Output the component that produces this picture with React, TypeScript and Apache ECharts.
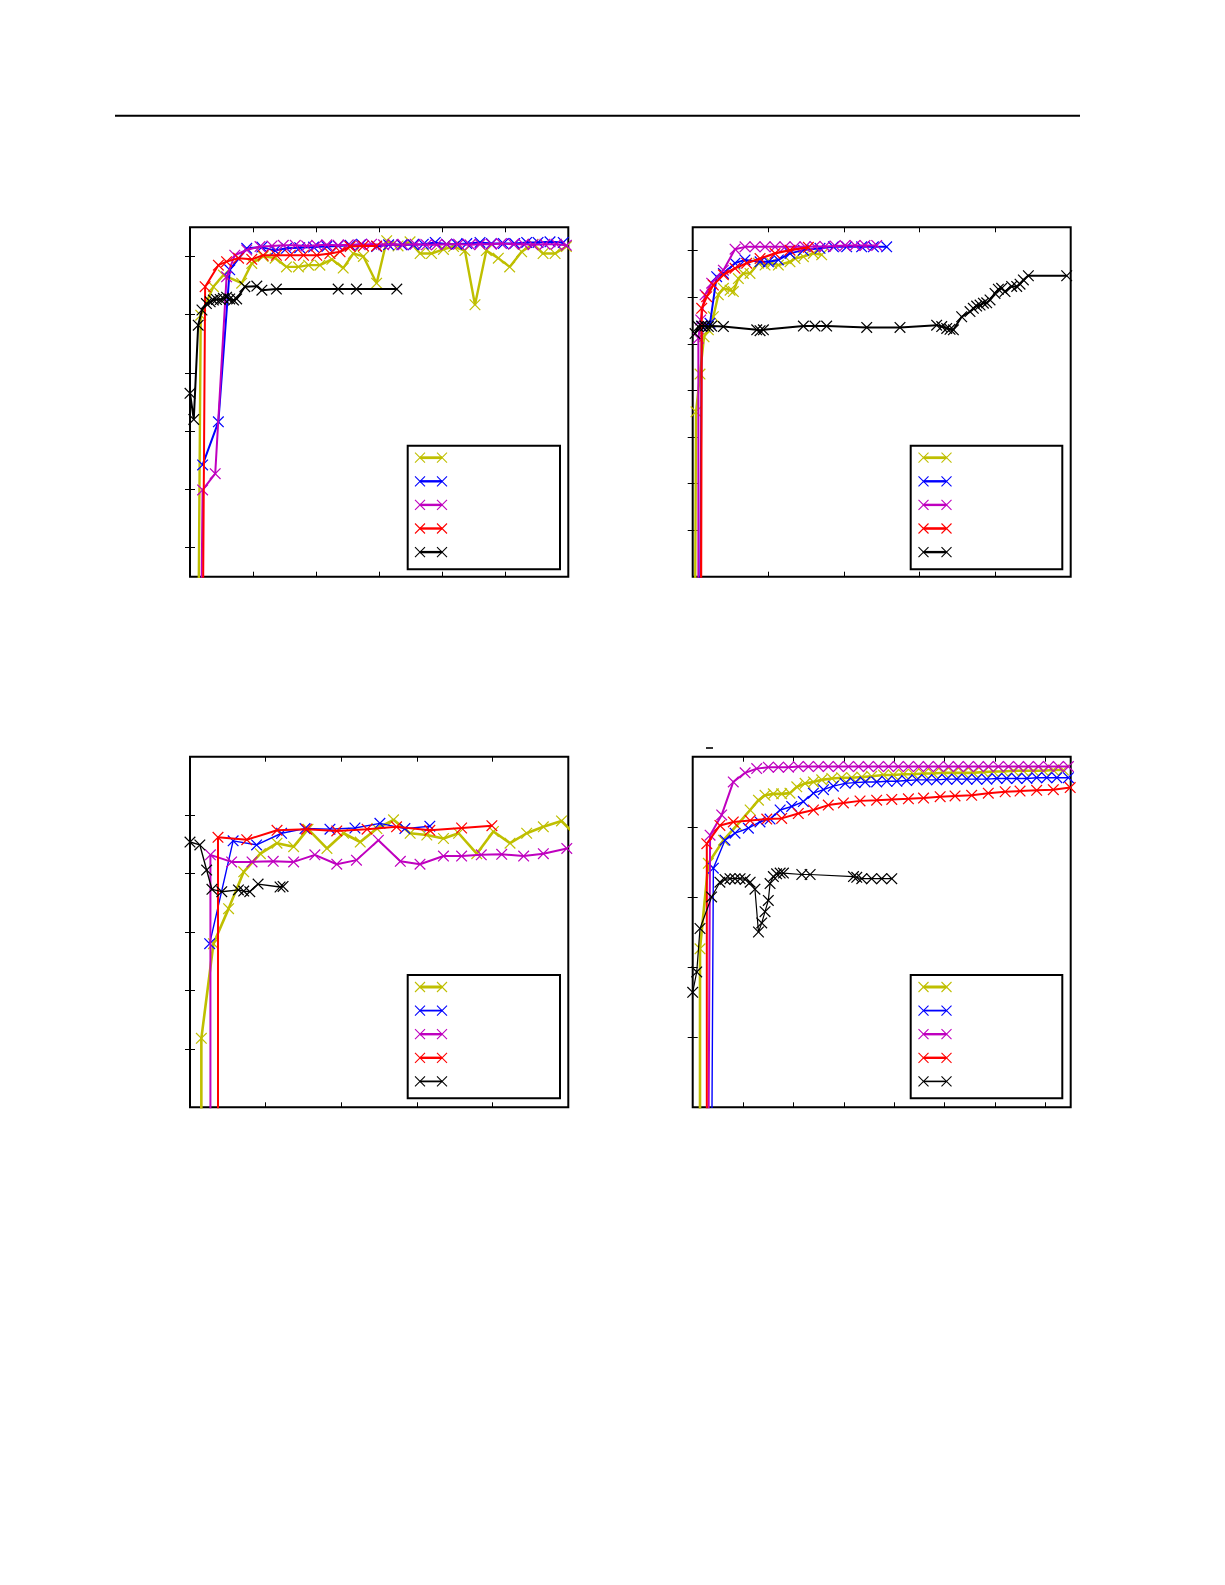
import { useEffect, useRef } from "react";
import * as echarts from "echarts";

type Pt = [number, number];

// matplotlib style colours, legend order
const SERIES_COLORS = ["#bfbf00", "#0000ff", "#bf00bf", "#ff0000", "#000000"];

// ---- panel 1 (top left) ----
const P1_X_TICKS = [10, 20, 30, 40, 50];
const P1_Y_TICKS = [0.5, 0.6, 0.7, 0.8, 0.9, 1.0];
const P1_YELLOW: Pt[] = [
  [1.3, 0.3], [1.7, 0.899], [3.7, 0.948], [5.3, 0.968], [8.2, 0.954], [9.8, 0.988],
  [11.6, 1.0], [13.5, 0.997], [15.3, 0.982], [17.2, 0.982], [18.8, 0.985], [20.6, 0.985],
  [22.5, 0.995], [24.3, 0.98], [25.9, 1.005], [27.5, 1.0], [29.6, 0.954], [31.2, 1.027],
  [33.0, 1.018], [34.9, 1.025], [36.5, 1.005], [38.3, 1.005], [40.2, 1.012], [41.8, 1.017],
  [43.6, 1.01], [45.2, 0.917], [47.0, 1.01], [48.9, 0.997], [50.7, 0.982], [52.6, 1.008],
  [54.4, 1.021], [56.0, 1.005], [57.9, 1.005], [59.7, 1.017],
];
const P1_BLUE: Pt[] = [
  [2.0, 0.642], [4.5, 0.716], [6.3, 0.977], [9.0, 1.014], [11.4, 1.016], [13.5, 1.01],
  [15.3, 1.014], [17.4, 1.015], [19.6, 1.016], [21.7, 1.017], [23.5, 1.018], [25.4, 1.019],
  [27.2, 1.021], [29.6, 1.017], [31.5, 1.02], [33.6, 1.02], [35.4, 1.02], [37.0, 1.021],
  [38.9, 1.024], [40.7, 1.021], [42.3, 1.021], [43.9, 1.022], [46.0, 1.024], [47.8, 1.022],
  [49.7, 1.022], [51.5, 1.022], [53.4, 1.024], [55.2, 1.024], [57.1, 1.025], [59.2, 1.024],
];
const P1_MAGENTA: Pt[] = [
  [1.7, 0.3], [2.0, 0.599], [4.0, 0.627], [5.8, 0.965], [7.1, 1.002], [9.0, 1.011],
  [11.1, 1.017], [13.0, 1.018], [14.8, 1.019], [16.7, 1.019], [18.5, 1.018], [20.1, 1.019],
  [21.7, 1.02], [23.5, 1.019], [25.1, 1.02], [27.0, 1.02], [28.8, 1.021], [30.7, 1.02],
  [32.2, 1.021], [33.8, 1.02], [35.7, 1.021], [37.5, 1.02], [39.1, 1.02], [40.7, 1.021],
  [42.6, 1.021], [44.4, 1.02], [46.0, 1.021], [47.8, 1.021], [49.4, 1.022], [51.3, 1.021],
  [52.9, 1.021], [54.4, 1.02], [56.3, 1.021], [58.1, 1.021], [59.7, 1.019],
];
const P1_RED: Pt[] = [
  [2.0, 0.3], [2.4, 0.948], [4.5, 0.985], [5.8, 0.991], [7.7, 0.997], [9.8, 0.995],
  [11.6, 1.002], [13.7, 1.002], [15.9, 1.002], [18.0, 1.002], [20.1, 1.002], [22.2, 1.005],
  [23.8, 1.008], [25.4, 1.017], [27.5, 1.018], [29.6, 1.018],
];
const P1_BLACK: Pt[] = [
  [0, 0.765], [0.6, 0.72], [1.3, 0.882], [1.9, 0.908], [2.6, 0.919], [3.2, 0.922],
  [3.7, 0.925], [4.2, 0.926], [4.8, 0.926], [5.3, 0.928], [5.8, 0.93], [6.3, 0.927],
  [6.9, 0.925], [7.4, 0.927], [8.7, 0.948], [10.6, 0.949], [11.4, 0.942], [13.7, 0.944],
  [23.5, 0.944], [26.4, 0.944], [32.8, 0.944],
];

// ---- panel 2 (top right) ----
const P2_X_TICKS = [100, 200, 300, 400];
const P2_Y_TICKS = [0.4, 0.5, 0.6, 0.7, 0.8, 0.9, 1.0];
const P2_YELLOW: Pt[] = [
  [3.1, 0.2], [4.4, 0.654], [9.7, 0.735], [15.0, 0.815], [20.7, 0.83], [27.3, 0.858],
  [33.9, 0.905], [40.6, 0.919], [49.4, 0.915], [53.8, 0.912], [60.4, 0.94], [67.0, 0.951],
  [75.8, 0.951], [86.9, 0.973], [95.7, 0.969], [104.5, 0.973], [113.3, 0.969], [128.7, 0.976],
  [135.4, 0.983], [146.4, 0.987], [159.6, 0.994], [170.6, 0.991],
];
const P2_BLUE: Pt[] = [
  [9.7, 0.2], [11.9, 0.837], [22.9, 0.844], [31.7, 0.944], [40.6, 0.951], [56.0, 0.973],
  [69.2, 0.98], [89.1, 0.976], [100.1, 0.976], [113.3, 0.98], [128.7, 0.994], [146.4, 1.001],
  [168.4, 1.005], [186.1, 1.008], [203.7, 1.008], [223.5, 1.008], [239.0, 1.008], [256.6, 1.008],
];
const P2_MAGENTA: Pt[] = [
  [7.5, 0.2], [7.5, 0.812], [10.6, 0.851], [16.3, 0.905], [25.1, 0.93], [40.6, 0.958],
  [56.0, 1.003], [69.2, 1.008], [82.4, 1.008], [95.7, 1.008], [108.9, 1.008], [122.1, 1.008],
  [135.4, 1.008], [148.6, 1.008], [161.8, 1.009], [175.0, 1.009], [188.3, 1.01], [201.5, 1.011],
  [214.7, 1.011], [227.9, 1.011], [243.4, 1.011],
];
const P2_RED: Pt[] = [
  [11.0, 0.2], [11.9, 0.876], [18.5, 0.901], [27.3, 0.926], [40.6, 0.948], [56.0, 0.962],
  [71.4, 0.973], [89.1, 0.983], [108.9, 0.994], [128.7, 1.001], [153.0, 1.007],
];
const P2_BLACK: Pt[] = [
  [3.1, 0.822], [7.5, 0.837], [11.9, 0.838], [16.3, 0.838], [20.7, 0.837], [25.1, 0.838],
  [40.6, 0.837], [84.7, 0.83], [89.1, 0.828], [93.5, 0.83], [146.4, 0.838], [161.8, 0.838],
  [177.2, 0.838], [230.2, 0.835], [274.2, 0.835], [322.7, 0.84], [329.4, 0.837], [336.0, 0.833],
  [340.4, 0.831], [344.8, 0.83], [355.8, 0.858], [366.8, 0.869], [371.2, 0.876], [375.6, 0.881],
  [380.1, 0.883], [384.5, 0.887], [388.9, 0.888], [393.3, 0.894], [399.9, 0.908], [404.3, 0.917],
  [408.7, 0.919], [413.1, 0.912], [421.9, 0.923], [428.6, 0.923], [433.0, 0.928], [437.4, 0.937],
  [444.0, 0.946], [494.7, 0.946],
];

// ---- panel 3 (bottom left) ----
const P3_X_TICKS = [10, 20, 30, 40];
const P3_Y_TICKS = [0.5, 0.6, 0.7, 0.8, 0.9];
const P3_YELLOW: Pt[] = [
  [1.5, 0.3], [1.5, 0.518], [3.1, 0.68], [5.1, 0.74], [7.1, 0.803], [9.3, 0.834],
  [11.5, 0.852], [13.7, 0.846], [15.6, 0.876], [18.1, 0.843], [20.3, 0.869], [22.5, 0.854],
  [24.7, 0.877], [26.9, 0.892], [29.1, 0.869], [31.3, 0.866], [33.5, 0.86], [35.5, 0.869],
  [37.9, 0.834], [40.1, 0.872], [42.3, 0.852], [44.5, 0.869], [46.7, 0.88], [49.1, 0.89],
  [50.7, 0.869],
];
const P3_BLUE: Pt[] = [
  [2.6, 0.68], [5.7, 0.856], [8.8, 0.849], [12.1, 0.869], [15.2, 0.877], [18.5, 0.876],
  [21.8, 0.878], [25.1, 0.886], [28.4, 0.877], [31.7, 0.881],
];
const P3_MAGENTA: Pt[] = [
  [2.7, 0.3], [2.7, 0.832], [5.5, 0.82], [8.2, 0.82], [11.0, 0.821], [13.7, 0.82],
  [16.5, 0.832], [19.4, 0.816], [22.0, 0.823], [24.9, 0.857], [27.8, 0.821], [30.4, 0.816],
  [33.5, 0.83], [35.9, 0.83], [38.5, 0.832], [41.2, 0.833], [44.1, 0.83], [46.7, 0.834],
  [49.8, 0.843],
];
const P3_RED: Pt[] = [
  [3.7, 0.3], [3.7, 0.862], [7.5, 0.858], [11.5, 0.874], [15.4, 0.876], [19.4, 0.873],
  [23.4, 0.876], [27.3, 0.88], [31.7, 0.874], [35.9, 0.878], [39.9, 0.882],
];
const P3_BLACK: Pt[] = [
  [0, 0.854], [1.3, 0.849], [2.2, 0.806], [2.9, 0.773], [4.2, 0.769], [6.4, 0.772],
  [7.1, 0.77], [7.9, 0.769], [9.0, 0.782], [11.9, 0.777], [12.3, 0.778],
];

// ---- panel 4 (bottom right) ----
const P4_X_TICKS = [20, 40, 60, 80, 100, 120, 140];
const P4_Y_TICKS = [0.6, 0.7, 0.8, 0.9];
const P4_YELLOW: Pt[] = [
  [2.9, 0.4], [2.9, 0.726], [6.2, 0.848], [12.2, 0.881], [17.5, 0.902], [22.8, 0.924],
  [26.1, 0.938], [28.7, 0.945], [32.0, 0.947], [35.3, 0.947], [38.6, 0.948], [41.3, 0.957],
  [44.6, 0.962], [47.9, 0.964], [51.2, 0.967], [55.2, 0.969], [59.1, 0.97], [63.1, 0.97],
  [67.1, 0.971], [71.0, 0.972], [75.7, 0.974], [79.6, 0.974], [83.6, 0.975], [87.6, 0.975],
  [91.6, 0.976], [95.5, 0.976], [99.5, 0.977], [103.5, 0.977], [107.4, 0.977], [111.4, 0.977],
  [115.4, 0.978], [119.3, 0.979], [123.3, 0.979], [127.3, 0.98], [131.2, 0.98], [135.2, 0.98],
  [139.2, 0.98], [143.1, 0.981], [147.1, 0.981],
];
const P4_BLUE: Pt[] = [
  [7.5, 0.4], [8.2, 0.841], [12.8, 0.881], [16.8, 0.891], [22.1, 0.898], [26.7, 0.907],
  [30.7, 0.911], [34.7, 0.924], [39.3, 0.929], [43.9, 0.936], [47.9, 0.948], [51.9, 0.953],
  [55.8, 0.958], [60.5, 0.962], [64.4, 0.963], [68.4, 0.964], [73.0, 0.964], [77.0, 0.965],
  [81.0, 0.965], [84.9, 0.966], [88.9, 0.967], [92.9, 0.967], [96.8, 0.967], [100.8, 0.968],
  [104.8, 0.968], [108.8, 0.968], [112.7, 0.968], [116.7, 0.968], [120.7, 0.969], [124.6, 0.969],
  [128.6, 0.969], [132.6, 0.969], [136.5, 0.97], [140.5, 0.97], [144.5, 0.97], [149.1, 0.97],
];
const P4_MAGENTA: Pt[] = [
  [6.2, 0.4], [6.9, 0.888], [11.5, 0.917], [16.1, 0.964], [20.8, 0.977], [25.4, 0.983],
  [30.0, 0.985], [34.0, 0.985], [38.0, 0.985], [41.9, 0.986], [45.9, 0.986], [49.9, 0.986],
  [53.8, 0.986], [57.8, 0.986], [61.8, 0.986], [65.8, 0.986], [69.7, 0.986], [73.7, 0.986],
  [77.7, 0.986], [81.6, 0.986], [85.6, 0.986], [89.6, 0.986], [93.5, 0.986], [97.5, 0.986],
  [101.5, 0.986], [105.4, 0.986], [109.4, 0.986], [113.4, 0.986], [117.3, 0.986], [121.3, 0.986],
  [125.3, 0.986], [129.3, 0.986], [133.2, 0.986], [137.2, 0.986], [141.2, 0.986], [145.1, 0.986],
  [149.1, 0.986],
];
const P4_RED: Pt[] = [
  [5.6, 0.4], [5.6, 0.876], [10.8, 0.902], [16.1, 0.907], [22.8, 0.909], [29.4, 0.911],
  [35.3, 0.912], [41.9, 0.919], [47.9, 0.924], [53.8, 0.931], [59.8, 0.934], [66.4, 0.937],
  [73.0, 0.938], [79.0, 0.939], [85.6, 0.94], [91.6, 0.941], [98.2, 0.943], [104.1, 0.944],
  [110.7, 0.945], [117.3, 0.948], [124.0, 0.95], [129.9, 0.951], [136.5, 0.952], [143.1, 0.953],
  [149.8, 0.956],
];
const P4_BLACK: Pt[] = [
  [0, 0.664], [1.6, 0.693], [2.9, 0.755], [7.5, 0.8], [10.8, 0.821], [12.8, 0.825],
  [14.8, 0.826], [16.8, 0.826], [18.8, 0.826], [20.8, 0.825], [22.8, 0.821], [24.7, 0.811],
  [26.1, 0.75], [27.4, 0.763], [28.7, 0.779], [30.0, 0.795], [30.7, 0.819], [32.0, 0.829],
  [33.3, 0.833], [34.7, 0.834], [36.0, 0.834], [43.3, 0.832], [46.6, 0.832], [63.8, 0.829],
  [65.1, 0.828], [67.1, 0.826], [71.0, 0.826], [75.0, 0.826], [79.0, 0.826],
];

// thin "x" marker like matplotlib's
const CROSS =
  "path://M0,0.75L0.75,0L5,4.25L9.25,0L10,0.75L5.75,5L10,9.25L9.25,10L5,5.75L0.75,10L0,9.25L4.25,5Z";

const PANELS = [
  {
    grid: { left: 190, top: 227.3, width: 378.3, height: 349.4 },
    x: [0, 60], y: [0.45, 1.05], xTicks: P1_X_TICKS, yTicks: P1_Y_TICKS,
    series: [P1_YELLOW, P1_BLUE, P1_MAGENTA, P1_RED, P1_BLACK],
    widths: [2.4, 2, 2, 2, 2],
    legend: { x: 407.7, y: 445.7, w: 152.3, h: 123.6, lx: 420, lw: 22 },
  },
  {
    grid: { left: 692.7, top: 227.3, width: 378, height: 349.4 },
    x: [0, 500], y: [0.3, 1.05], xTicks: P2_X_TICKS, yTicks: P2_Y_TICKS,
    series: [P2_YELLOW, P2_BLUE, P2_MAGENTA, P2_RED, P2_BLACK],
    widths: [2.4, 2, 2, 2.2, 2],
    legend: { x: 910.7, y: 445.7, w: 151.6, h: 123.6, lx: 923.5, lw: 23 },
  },
  {
    grid: { left: 190, top: 756.7, width: 378.3, height: 350.6 },
    x: [0, 50], y: [0.4, 1.0], xTicks: P3_X_TICKS, yTicks: P3_Y_TICKS,
    series: [P3_YELLOW, P3_BLUE, P3_MAGENTA, P3_RED, P3_BLACK],
    widths: [2.6, 1.4, 2, 2, 1.4],
    legend: { x: 407.7, y: 975, w: 152.3, h: 123.3, lx: 420, lw: 22 },
  },
  {
    grid: { left: 692.7, top: 756.7, width: 378, height: 350.6 },
    x: [0, 150], y: [0.5, 1.0], xTicks: P4_X_TICKS, yTicks: P4_Y_TICKS,
    series: [P4_YELLOW, P4_BLUE, P4_MAGENTA, P4_RED, P4_BLACK],
    widths: [2.6, 1.4, 2, 2, 1.2],
    legend: { x: 910.7, y: 975, w: 151.6, h: 123.3, lx: 923.5, lw: 23 },
  },
];

function tickAxis(gridIndex: number, range: number[], ticks: number[], position: string) {
  return {
    type: "value",
    gridIndex,
    position,
    min: range[0],
    max: range[1],
    axisLine: { show: false },
    axisLabel: { show: false },
    splitLine: { show: false },
    axisTick: {
      show: true,
      inside: true,
      length: 5,
      customValues: ticks,
      lineStyle: { color: "#000", width: 1 },
    },
  };
}

function legendGraphics(lg: (typeof PANELS)[number]["legend"], widths: number[]) {
  const items: any[] = [
    {
      type: "rect",
      shape: { x: lg.x, y: lg.y, width: lg.w, height: lg.h },
      style: { fill: "#fff", stroke: "#000", lineWidth: 2 },
      z: 100,
    },
  ];
  SERIES_COLORS.forEach((color, k) => {
    const cy = lg.y + 12 + k * 23.6;
    items.push({
      type: "line",
      shape: { x1: lg.lx, y1: cy, x2: lg.lx + lg.lw, y2: cy },
      style: { stroke: color, lineWidth: widths[k] + 0.4 },
      z: 101,
    });
    [lg.lx, lg.lx + lg.lw].forEach((cx) => {
      items.push({
        type: "line",
        shape: { x1: cx - 5, y1: cy - 5, x2: cx + 5, y2: cy + 5 },
        style: { stroke: color, lineWidth: 1.1 },
        z: 102,
      });
      items.push({
        type: "line",
        shape: { x1: cx - 5, y1: cy + 5, x2: cx + 5, y2: cy - 5 },
        style: { stroke: color, lineWidth: 1.1 },
        z: 102,
      });
    });
  });
  return items;
}

export default function App() {
  const ref = useRef<HTMLDivElement | null>(null);

  useEffect(() => {
    if (!ref.current) {
      return;
    }

    const chart = echarts.init(ref.current, undefined, { renderer: "svg" });

    const grid: any[] = [];
    const xAxis: any[] = [];
    const yAxis: any[] = [];
    const series: any[] = [];
    let graphic: any[] = [
      {
        type: "line",
        shape: { x1: 115, y1: 115.7, x2: 1080, y2: 115.7 },
        style: { stroke: "#000", lineWidth: 2 },
      },
      {
        type: "rect",
        shape: { x: 706, y: 747.2, width: 7, height: 1.6 },
        style: { fill: "#000" },
      },
    ];

    PANELS.forEach((p, i) => {
      grid.push({
        ...p.grid,
        show: true,
        borderColor: "#000",
        borderWidth: 2,
        backgroundColor: "transparent",
      });
      xAxis.push(tickAxis(i, p.x, p.xTicks, "bottom"));
      xAxis.push(tickAxis(i, p.x, p.xTicks, "top"));
      yAxis.push(tickAxis(i, p.y, p.yTicks, "left"));
      yAxis.push(tickAxis(i, p.y, p.yTicks, "right"));

      p.series.forEach((data, k) => {
        series.push({
          type: "line",
          xAxisIndex: i * 2,
          yAxisIndex: i * 2,
          data,
          symbol: CROSS,
          symbolSize: 11.5,
          showAllSymbol: true,
          clip: true,
          silent: true,
          itemStyle: { color: SERIES_COLORS[k] },
          lineStyle: { color: SERIES_COLORS[k], width: p.widths[k] },
          emphasis: { disabled: true },
          z: 2 + k,
        });
      });

      graphic = graphic.concat(legendGraphics(p.legend, p.widths));
    });

    chart.setOption({
      animation: false,
      backgroundColor: "#fff",
      grid,
      xAxis,
      yAxis,
      series,
      graphic,
    });

    return () => {
      chart.dispose();
    };
  }, []);

  return (
    <div
      ref={ref}
      style={{ position: "absolute", left: 0, top: 0, width: 1225, height: 1585 }}
    />
  );
}
